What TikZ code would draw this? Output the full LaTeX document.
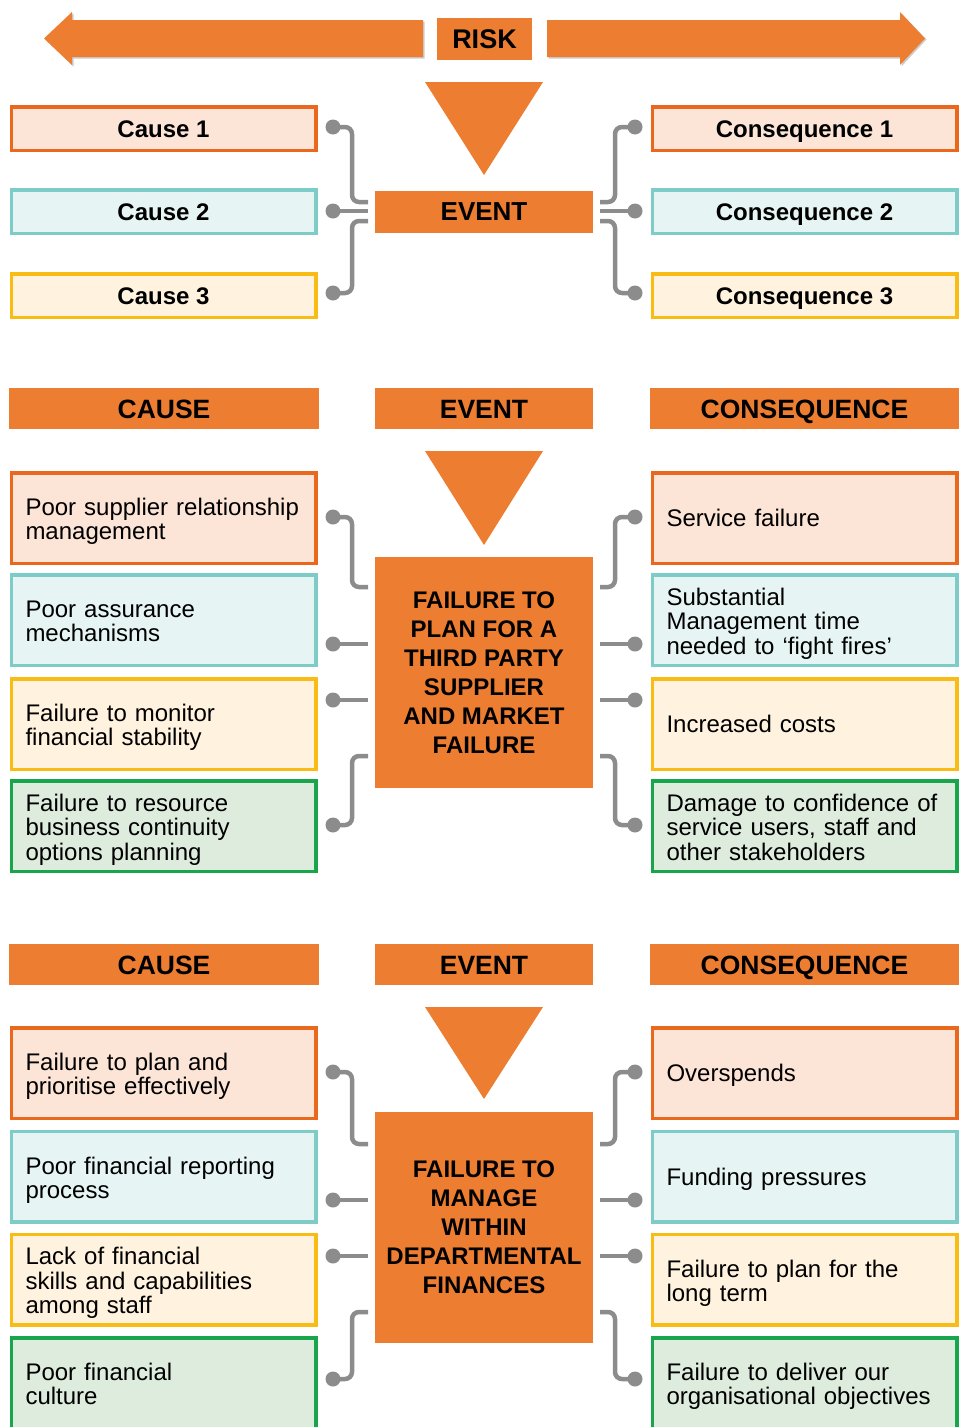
\documentclass[tikz,border=0pt]{standalone}
\usepackage{fontspec}
\setmainfont{Liberation Sans}
\usetikzlibrary{calc}
\definecolor{hdrorange}{RGB}{237,125,49}
\definecolor{bdorange}{RGB}{233,104,29}
\definecolor{florange}{RGB}{252,228,214}
\definecolor{bdteal}{RGB}{126,204,200}
\definecolor{flteal}{RGB}{231,244,244}
\definecolor{bdyellow}{RGB}{249,188,21}
\definecolor{flyellow}{RGB}{255,242,222}
\definecolor{bdgreen}{RGB}{25,165,75}
\definecolor{flgreen}{RGB}{222,236,221}
\definecolor{conngray}{RGB}{140,140,140}
\definecolor{shadowgray}{RGB}{205,205,205}
\tikzset{
  hdr/.style={fill=hdrorange, draw=none, inner sep=0pt, text=black,
    text height=19pt, text depth=0pt,
    font=\fontsize{26.5}{28}\selectfont\bfseries},
  evt/.style={fill=hdrorange, draw=none, inner sep=0pt, text=black, align=center,
    minimum width=218pt, font=\fontsize{24}{29}\selectfont\bfseries},
  bx/.style={line width=3.5pt, minimum width=304.5pt, minimum height=90.5pt,
    inner xsep=14.25pt, inner ysep=0pt, text width=276pt, align=left,
    font=\fontsize{24}{24.3}\selectfont,
    execute at end node={\par\kern-\prevdepth\kern-2pt}},
  sbx/.style={line width=3.5pt, minimum width=304.5pt, minimum height=43.5pt,
    inner sep=0pt, align=center, text height=17.5pt, text depth=0pt,
    font=\fontsize{24}{26}\selectfont\bfseries},
  bO/.style={draw=bdorange, fill=florange},
  bT/.style={draw=bdteal, fill=flteal},
  bY/.style={draw=bdyellow, fill=flyellow},
  bG/.style={draw=bdgreen, fill=flgreen},
  conn/.style={draw=conngray, line width=4.5pt, rounded corners=7pt},
  cdot/.style={fill=conngray},
  tri/.style={fill=hdrorange, draw=none},
  bigarrow/.style={fill=hdrorange, draw=none},
}
% four connectors on each side of an event box
% #1 prefix, #2 top dot y, #3 top end y, #4 mid y, #5 third y, #6 bottom end y, #7 bottom dot y
\newcommand{\connfour}[7]{%
  \coordinate (#1LdA) at (333,#2); \coordinate (#1LeA) at (368,#3);
  \coordinate (#1LdB) at (333,#4); \coordinate (#1LeB) at (368,#4);
  \coordinate (#1LdC) at (333,#5); \coordinate (#1LeC) at (368,#5);
  \coordinate (#1LdD) at (333,#7); \coordinate (#1LeD) at (368,#6);
  \coordinate (#1RdA) at (635,#2); \coordinate (#1ReA) at (600,#3);
  \coordinate (#1RdB) at (635,#4); \coordinate (#1ReB) at (600,#4);
  \coordinate (#1RdC) at (635,#5); \coordinate (#1ReC) at (600,#5);
  \coordinate (#1RdD) at (635,#7); \coordinate (#1ReD) at (600,#6);
  \draw[conn] (#1LdA) -- ++(19,0) |- (#1LeA);
  \draw[conn] (#1LdB) -- (#1LeB);
  \draw[conn] (#1LdC) -- (#1LeC);
  \draw[conn] (#1LdD) -- ++(19,0) |- (#1LeD);
  \draw[conn] (#1RdA) -- ++(-20,0) |- (#1ReA);
  \draw[conn] (#1RdB) -- (#1ReB);
  \draw[conn] (#1RdC) -- (#1ReC);
  \draw[conn] (#1RdD) -- ++(-20,0) |- (#1ReD);
  \foreach \p in {LdA,LdB,LdC,LdD,RdA,RdB,RdC,RdD}{\fill[cdot] (#1\p) circle (7.5pt);}
}
\begin{document}
\begin{tikzpicture}[x=1pt,y=-1pt]
\useasboundingbox (0,0) rectangle (959,1427);
\clip (0,0) rectangle (959,1427);

% ---------- top: RISK arrows ----------
\fill[shadowgray] (424.5,21.5) -- (73.5,21.5) -- (73.5,13.5) -- (45.5,39.5) -- (73.5,66.5) -- (73.5,58.5) -- (424.5,58.5) -- cycle;
\fill[bigarrow] (423,20) -- (72,20) -- (72,12) -- (44,38.5) -- (72,65) -- (72,57) -- (423,57) -- cycle;
\fill[shadowgray] (548.5,21.5) -- (901.5,21.5) -- (901.5,13.5) -- (926.5,39.5) -- (901.5,66.5) -- (901.5,58.5) -- (548.5,58.5) -- cycle;
\fill[bigarrow] (547,20) -- (900,20) -- (900,12) -- (925,38.5) -- (900,65) -- (900,57) -- (547,57) -- cycle;
\node[hdr, minimum width=95pt, minimum height=42pt, font=\fontsize{27}{28}\selectfont\bfseries] (risk) at (484.5,39) {RISK};

% ---------- section 1 ----------
\fill[tri] (425,82) -- (543,82) -- (484,175) -- cycle;
\node[evt, minimum height=42pt, font=\fontsize{26}{28}\selectfont\bfseries] (ev1) at (484,212) {EVENT};
\node[sbx, bO] (c1) at (163.5,128.5) {Cause 1};
\node[sbx, bT] (c2) at (163.5,211.5) {Cause 2};
\node[sbx, bY] (c3) at (163.5,295.5) {Cause 3};
\node[sbx, bO] (q1) at (804.5,128.5) {Consequence 1};
\node[sbx, bT] (q2) at (804.5,211.5) {Consequence 2};
\node[sbx, bY] (q3) at (804.5,295.5) {Consequence 3};
\coordinate (s1LdA) at (333,127); \coordinate (s1LeA) at (368,202);
\coordinate (s1LdB) at (333,211); \coordinate (s1LeB) at (368,211);
\coordinate (s1LdD) at (333,293); \coordinate (s1LeD) at (368,221);
\coordinate (s1RdA) at (635,127); \coordinate (s1ReA) at (600,202);
\coordinate (s1RdB) at (635,211); \coordinate (s1ReB) at (600,211);
\coordinate (s1RdD) at (635,293); \coordinate (s1ReD) at (600,221);
\draw[conn] (s1LdA) -- ++(19,0) |- (s1LeA);
\draw[conn] (s1LdB) -- (s1LeB);
\draw[conn] (s1LdD) -- ++(19,0) |- (s1LeD);
\draw[conn] (s1RdA) -- ++(-20,0) |- (s1ReA);
\draw[conn] (s1RdB) -- (s1ReB);
\draw[conn] (s1RdD) -- ++(-20,0) |- (s1ReD);
\foreach \p in {LdA,LdB,LdD,RdA,RdB,RdD}{\fill[cdot] (s1\p) circle (7.5pt);}

% ---------- section 2 ----------
\node[hdr, minimum width=310pt, minimum height=41pt] (h2c) at (164,408.5) {CAUSE};
\node[hdr, minimum width=218pt, minimum height=41pt] (h2e) at (484,408.5) {EVENT};
\node[hdr, minimum width=309pt, minimum height=41pt] (h2q) at (804.5,408.5) {CONSEQUENCE};
\fill[tri] (425,451) -- (543,451) -- (484,545) -- cycle;
\node[evt, minimum height=231pt] (ev2) at (484,672.5) {FAILURE TO\\PLAN FOR A\\THIRD PARTY\\SUPPLIER\\AND MARKET\\FAILURE};
\node[bx, bO] (a1) at (163.5,518) {Poor supplier relationship\\management};
\node[bx, bT] (a2) at (163.5,620) {Poor assurance\\mechanisms};
\node[bx, bY] (a3) at (163.5,724) {Failure to monitor\\financial stability};
\node[bx, bG] (a4) at (163.5,826) {Failure to resource\\business continuity\\options planning};
\node[bx, bO] (b1) at (804.5,518) {Service failure};
\node[bx, bT] (b2) at (804.5,620) {Substantial\\Management time\\needed to ‘fight fires’};
\node[bx, bY] (b3) at (804.5,724) {Increased costs};
\node[bx, bG] (b4) at (804.5,826) {Damage to confidence of\\service users, staff and\\other stakeholders};
\connfour{s2}{517}{587}{644}{700}{756}{825}

% ---------- section 3 ----------
\node[hdr, minimum width=310pt, minimum height=41pt] (h3c) at (164,964.5) {CAUSE};
\node[hdr, minimum width=218pt, minimum height=41pt] (h3e) at (484,964.5) {EVENT};
\node[hdr, minimum width=309pt, minimum height=41pt] (h3q) at (804.5,964.5) {CONSEQUENCE};
\fill[tri] (425,1007) -- (543,1007) -- (484,1099) -- cycle;
\node[evt, minimum height=231pt] (ev3) at (484,1227.5) {FAILURE TO\\MANAGE\\WITHIN\\DEPARTMENTAL\\FINANCES};
\node[bx, bO] (d1) at (163.5,1073) {Failure to plan and\\prioritise effectively};
\node[bx, bT] (d2) at (163.5,1176.5) {Poor financial reporting\\process};
\node[bx, bY] (d3) at (163.5,1279.5) {Lack of financial\\skills and capabilities\\among staff};
\node[bx, bG] (d4) at (163.5,1383) {Poor financial\\culture};
\node[bx, bO] (e1) at (804.5,1073) {Overspends};
\node[bx, bT] (e2) at (804.5,1176.5) {Funding pressures};
\node[bx, bY] (e3) at (804.5,1279.5) {Failure to plan for the\\long term};
\node[bx, bG] (e4) at (804.5,1383) {Failure to deliver our\\organisational objectives};
\connfour{s3}{1072}{1144}{1200}{1256}{1312}{1379}
\end{tikzpicture}
\end{document}
